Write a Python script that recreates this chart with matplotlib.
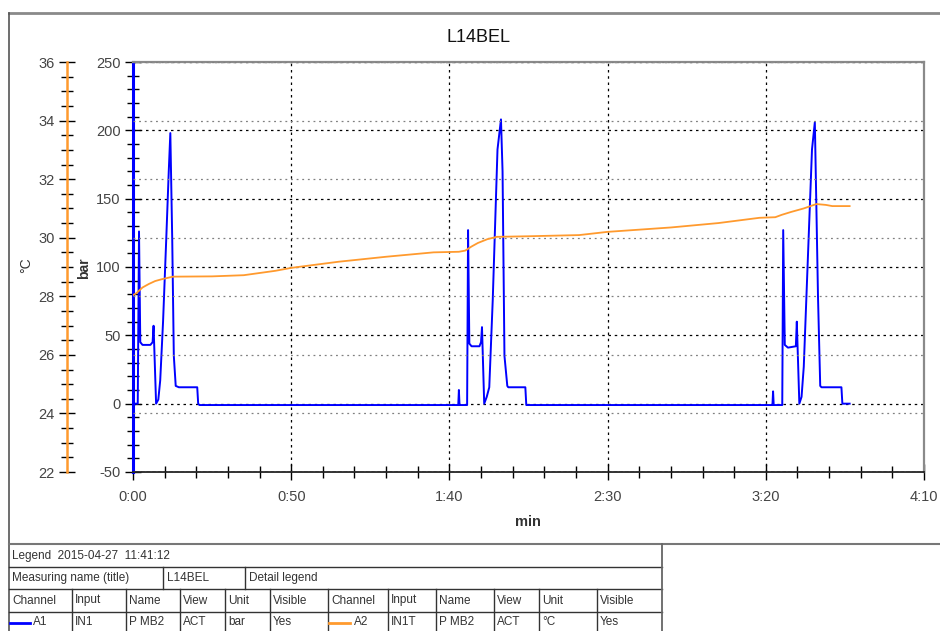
import matplotlib
matplotlib.use("Agg")
import matplotlib.pyplot as plt
from matplotlib.lines import Line2D
from matplotlib.ticker import MultipleLocator, FuncFormatter

plt.rcParams['font.family'] = ['Liberation Sans', 'DejaVu Sans']
plt.rcParams['axes.unicode_minus'] = False

# ---------------- data ----------------
TITLE = "L14BEL"

# pressure A1 (bar) vs time (s)
p_time = [0, 1.5, 1.9, 2.3, 3.0, 5.5, 6.2, 6.5, 7.3, 8.0, 8.6, 9.5, 10.5, 11.3, 11.8,
          12.4, 12.9, 13.5, 14.5, 20.3, 20.6, 21.0,
          102.8, 103.0, 103.2, 105.6, 105.9, 106.3, 107.0, 109.5, 110.0, 110.3, 111.0,
          111.8, 112.6, 113.7, 115.2, 116.3, 116.8, 117.4, 118.3, 118.6, 124.0, 124.3,
          202.1, 202.3, 202.5, 205.2, 205.5, 206.0, 207.0, 209.5, 209.8, 210.6,
          211.3, 212.0, 213.6, 214.6, 215.5, 216.5, 217.2, 217.6, 223.9, 224.2, 226.5]
p_bar = [0, 0, 126, 45, 43, 43, 45, 57, 0, 3, 17, 60, 120, 170, 198,
         120, 35, 13, 12, 12, 0, -1,
         -1, 10, -1, -1, 127, 44, 42, 42, 45, 56, 0,
         5, 12, 76, 186, 208, 170, 35, 13, 12, 12, -1,
         -1, 9, -1, -1, 127, 43, 41, 42, 60, 0,
         5, 27, 125, 186, 206, 78, 13, 12, 12, 0, 0]

# temperature A2 (°C) vs time (s)
t_time = [0, 1, 3, 5, 7, 9, 11, 12.6, 25, 35, 45, 50, 65, 80, 95, 103, 105, 107,
          109, 112, 115, 125, 141, 150, 170, 185, 198, 203, 205, 208, 212, 216,
          219, 221, 226.5]
t_degc = [28.04, 28.1, 28.3, 28.42, 28.52, 28.58, 28.63, 28.67, 28.68, 28.72,
          28.87, 28.97, 29.18, 29.35, 29.5, 29.52, 29.56, 29.7, 29.82, 29.95,
          30.03, 30.05, 30.09, 30.2, 30.35, 30.5, 30.68, 30.7, 30.78, 30.88,
          31.0, 31.15, 31.12, 31.08, 31.08]

legend_header = "Legend  2015-04-27  11:41:12"
row2 = ["Measuring name (title)", "L14BEL", "Detail legend"]
col_heads = ["Channel", "Input", "Name", "View", "Unit", "Visible",
             "Channel", "Input", "Name", "View", "Unit", "Visible"]
row_a1 = ["A1", "IN1", "P MB2", "ACT", "bar", "Yes"]
row_a2 = ["A2", "IN1T", "P MB2", "ACT", "°C", "Yes"]

BLUE = "#0000ff"
ORANGE = "#ff9a2e"
W, H = 940, 631


def px(x, y):
    return x / W, 1 - y / H


fig = plt.figure(figsize=(W / 100, H / 100), dpi=100)

# plot area
l, r, t, b = 133, 924, 62, 472
ax = fig.add_axes([l / W, 1 - b / H, (r - l) / W, (b - t) / H])
ax.plot(p_time, p_bar, color=BLUE, lw=1.4, zorder=3)
ax.set_xlim(0, 250)
ax.set_ylim(-50, 250)
ax.yaxis.set_major_locator(MultipleLocator(50))
ax.yaxis.set_minor_locator(MultipleLocator(10))
ax.xaxis.set_major_locator(MultipleLocator(50))
ax.xaxis.set_minor_locator(MultipleLocator(10))
ax.xaxis.set_major_formatter(FuncFormatter(lambda v, p: "%d:%02d" % (int(v) // 60, int(v) % 60)))
ax.tick_params(axis='y', which='major', direction='inout', length=12, width=1,
               color='k', labelcolor='#444', labelsize=10.5, pad=3)
ax.tick_params(axis='y', which='minor', direction='inout', length=8, width=1, color='k')
ax.tick_params(axis='x', which='major', direction='inout', length=12, width=1,
               color='k', labelcolor='#444', labelsize=10.5, pad=7)
ax.tick_params(axis='x', which='minor', direction='inout', length=9, width=1, color='k')
ax.grid(axis='y', which='major', color='k', ls=(0, (2, 3)), lw=0.9)
for xv in [50, 100, 150, 200]:
    ax.axvline(xv, color='k', ls=(0, (2, 3)), lw=0.9, zorder=1)
ax.spines['left'].set_color(BLUE)
ax.spines['left'].set_linewidth(2.2)
ax.spines['bottom'].set_color('#222')
ax.spines['bottom'].set_linewidth(1.3)
for s in ['top', 'right']:
    ax.spines[s].set_color('#8a8a8a')
    ax.spines[s].set_linewidth(1.6)

# temperature axis
ax2 = ax.twinx()
ax2.plot(t_time, t_degc, color=ORANGE, lw=1.3)
ax2.set_ylim(22, 36)
ax2.spines['left'].set_position(('axes', -(l - 67) / (r - l)))
ax2.spines['left'].set_visible(True)
ax2.spines['left'].set_color(ORANGE)
ax2.spines['left'].set_linewidth(1.8)
ax2.spines['right'].set_visible(False)
ax2.spines['top'].set_visible(False)
ax2.spines['bottom'].set_visible(False)
ax2.yaxis.set_ticks_position('left')
ax2.yaxis.set_label_position('left')
ax2.yaxis.set_major_locator(MultipleLocator(2))
ax2.yaxis.set_minor_locator(MultipleLocator(0.5))
ax2.tick_params(axis='y', which='major', direction='inout', length=12, width=1,
                color='k', labelcolor='#444', labelsize=10.5, pad=3)
ax2.tick_params(axis='y', which='minor', direction='inout', length=8, width=1, color='k')
ax2.grid(axis='y', which='major', color='#808080', ls=(0, (1.5, 3)), lw=0.9)

# titles / axis labels
fig.text(*px(478, 37), TITLE, ha='center', va='center', fontsize=13, color='#111')
fig.text(*px(26, 265), "°C", ha='center', va='center', rotation=90, fontsize=10, color='#333')
fig.text(*px(84, 268), "bar", ha='center', va='center', rotation=90, fontsize=10,
         fontweight='bold', color='#333')
fig.text(*px(528, 522), "min", ha='center', va='center', fontsize=10.5,
         fontweight='bold', color='#333')


def hline(x0, x1, y, color='#333', lw=1.0):
    fig.add_artist(Line2D([x0 / W, x1 / W], [1 - y / H, 1 - y / H], color=color, lw=lw))


def vline(x, y0, y1, color='#333', lw=1.0):
    fig.add_artist(Line2D([x / W, x / W], [1 - y0 / H, 1 - y1 / H], color=color, lw=lw))


# outer frame
hline(9, 940, 13, color='#8a8a8a', lw=2)
vline(9, 13, 631, color='#555', lw=1.2)
hline(9, 940, 544, color='#777', lw=1.5)

# legend table
for y in [567, 589, 612]:
    hline(9, 662, y)
vline(662, 544, 631, color='#666', lw=1.3)
vline(163, 567, 589)
vline(245, 567, 589)
cols = [9, 72, 126, 180, 225, 270, 328, 388, 436, 494, 539, 597]
for x in cols[1:]:
    vline(x, 589, 631)

tkw = dict(fontsize=8.5, color='#333', va='center', ha='left')
fig.text(*px(12, 556), legend_header, **tkw)
fig.text(*px(12, 578), row2[0], **tkw)
fig.text(*px(167, 578), row2[1], **tkw)
fig.text(*px(249, 578), row2[2], **tkw)
for x, s in zip(cols, col_heads):
    fig.text(*px(x + 3, 600.5), s, **tkw)
for x, s in zip(cols[1:6], row_a1[1:]):
    fig.text(*px(x + 3, 622), s, **tkw)
for x, s in zip(cols[7:12], row_a2[1:]):
    fig.text(*px(x + 3, 622), s, **tkw)
hline(10, 30, 623, color=BLUE, lw=2)
fig.text(*px(33, 622), row_a1[0], **tkw)
hline(329, 350, 623, color=ORANGE, lw=2)
fig.text(*px(354, 622), row_a2[0], **tkw)

fig.savefig("out.png", dpi=100)
